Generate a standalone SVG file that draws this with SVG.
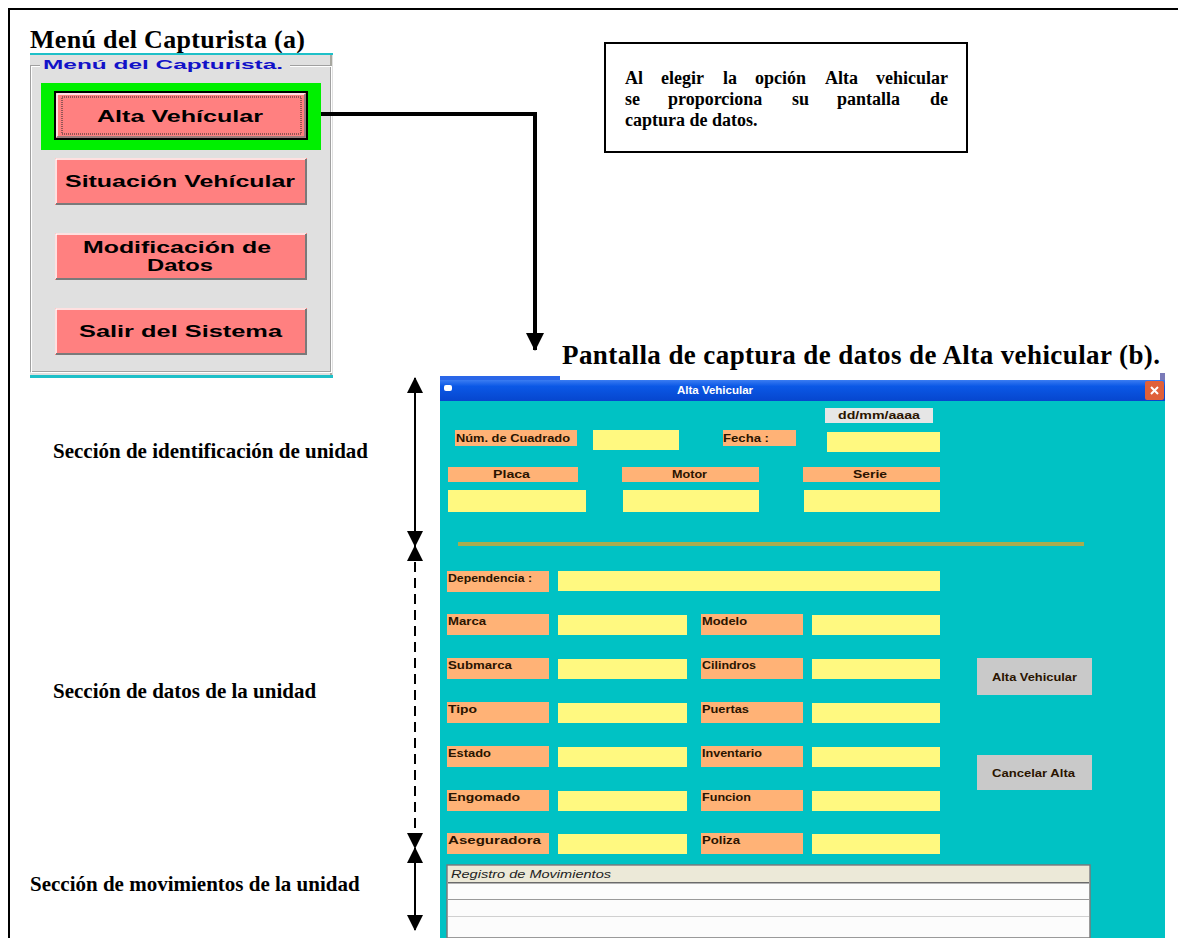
<svg xmlns="http://www.w3.org/2000/svg" width="1178" height="938" viewBox="0 0 1178 938">
  <defs>
    <style>
      .serif { font-family: "Liberation Serif", "Times New Roman", serif; font-weight: bold; fill: #000; }
      .btn-face { fill: #FF8080; }
      .btn-text { font-family: "Liberation Sans", Arial, sans-serif; font-weight: bold; font-size: 16px; fill: #000; }
      .lbl { fill: #FFB276; }
      .fld { fill: #FFF980; }
      .ft { font-family: "Liberation Sans", Arial, sans-serif; font-weight: bold; font-size: 11px; fill: #2A1400; }
      .gbtn { fill: #C9C9C9; }
      .hi { fill: none; stroke: #FFFFFF; stroke-width: 1.5; }
      .sh { fill: none; stroke: #7A7A7A; stroke-width: 2; }
      .conn { fill: none; stroke: #000; stroke-width: 4; }
      .span { fill: none; stroke: #000; stroke-width: 2; }
    </style>
    <linearGradient id="titlebar" x1="0" y1="0" x2="0" y2="1">
      <stop offset="0" stop-color="#3A7CF2"/>
      <stop offset="0.3" stop-color="#0B58E6"/>
      <stop offset="1" stop-color="#0646CE"/>
    </linearGradient>
    <marker id="tip" markerUnits="userSpaceOnUse" markerWidth="16" markerHeight="16" refX="15" refY="8" orient="auto-start-reverse" viewBox="0 0 16 16">
      <path d="M0,0 L16,8 L0,16 Z" fill="#000"/>
    </marker>
    <marker id="bigtip" markerUnits="userSpaceOnUse" markerWidth="18" markerHeight="18" refX="17" refY="9" orient="auto" viewBox="0 0 18 18">
      <path d="M0,0 L18,9 L0,18 Z" fill="#000"/>
    </marker>
  </defs>

  <rect width="1178" height="938" fill="#FFFFFF"/>

  <!-- page frame: left and top rules -->
  <path d="M9,938 V9 H1178" fill="none" stroke="#000" stroke-width="2"/>

  <!-- (a) menu window -->
  <g id="menu">
    <text class="serif" x="30" y="48" font-size="26" textLength="275">Menú del Capturista (a)</text>
    <rect x="30" y="54" width="303" height="322" fill="#E0E0E0"/>
    <rect x="30" y="53" width="303" height="2" fill="#1EC0C8"/>
    <rect x="30" y="375" width="303" height="3" fill="#1EC0C8"/>
    <rect x="330" y="55" width="2" height="320" fill="#A8A8A0"/>
    <!-- etched group box -->
    <rect x="30.5" y="65.5" width="300" height="306" fill="none" stroke="#A0A0A0"/>
    <rect x="31.5" y="66.5" width="300" height="306" fill="none" stroke="#FFFFFF"/>
    <rect x="40" y="58" width="250" height="16" fill="#E0E0E0"/>
    <text x="43" y="69" font-family="Liberation Sans, Arial, sans-serif" font-weight="bold" font-size="13" fill="#1212C8" textLength="240" lengthAdjust="spacingAndGlyphs">Menú del Capturista.</text>
  </g>

  <g id="alta-btn">
    <rect x="41" y="83" width="280" height="67" fill="#00F000"/>
    <rect x="55" y="92" width="252" height="47" class="btn-face" stroke="#000" stroke-width="2"/>
    <path class="hi" d="M57,137 V94 H305"/>
    <path d="M57,137 H305 V94" fill="none" stroke="#7A7A7A" stroke-width="1.5"/>
    <rect x="62" y="97" width="239" height="37" fill="none" stroke="#2A2A2A" stroke-width="1" stroke-dasharray="1,1"/>
    <text class="btn-text" x="97" y="122" textLength="166" lengthAdjust="spacingAndGlyphs">Alta Vehícular</text>
  </g>

  <g id="situacion-btn">
    <rect x="55" y="158" width="252" height="47" class="btn-face"/>
    <path class="hi" d="M56,204 V159 H306"/>
    <path class="sh" d="M56,204 H306 V159"/>
    <text class="btn-text" x="65" y="187" textLength="230" lengthAdjust="spacingAndGlyphs">Situación Vehícular</text>
  </g>

  <g id="modificacion-btn">
    <rect x="55" y="233" width="252" height="47" class="btn-face"/>
    <path class="hi" d="M56,279 V234 H306"/>
    <path class="sh" d="M56,279 H306 V234"/>
    <text class="btn-text" x="83" y="253" textLength="188" lengthAdjust="spacingAndGlyphs">Modificación de</text>
    <text class="btn-text" x="147" y="271" textLength="66" lengthAdjust="spacingAndGlyphs">Datos</text>
  </g>

  <g id="salir-btn">
    <rect x="55" y="308" width="252" height="47" class="btn-face"/>
    <path class="hi" d="M56,354 V309 H306"/>
    <path class="sh" d="M56,354 H306 V309"/>
    <text class="btn-text" x="79" y="337" textLength="203" lengthAdjust="spacingAndGlyphs">Salir del Sistema</text>
  </g>

  <!-- explanatory note, justified word by word -->
  <g id="note">
    <rect x="605" y="43" width="362" height="109" fill="#FFFFFF" stroke="#000" stroke-width="2"/>
    <text class="serif" font-size="18" y="84">
      <tspan x="625">Al</tspan><tspan x="661">elegir</tspan><tspan x="723">la</tspan><tspan x="755">opción</tspan><tspan x="825">Alta</tspan><tspan x="948" text-anchor="end">vehicular</tspan>
    </text>
    <text class="serif" font-size="18" y="105">
      <tspan x="625">se</tspan><tspan x="668">proporciona</tspan><tspan x="792">su</tspan><tspan x="837">pantalla</tspan><tspan x="948" text-anchor="end">de</tspan>
    </text>
    <text class="serif" font-size="18" x="625" y="126">captura de datos.</text>
  </g>

  <!-- (b) data-entry window -->
  <g id="screen">
    <rect x="440" y="376" width="120" height="5" fill="#2A66E8"/>
    <rect x="1160" y="373" width="5" height="8" fill="#7A7AB8"/>
    <rect x="440" y="380" width="725" height="21" fill="url(#titlebar)"/>
    <rect x="444" y="385" width="8" height="6" rx="2" fill="#FFFFFF"/>
    <text x="677" y="394" font-family="Liberation Sans, Arial, sans-serif" font-weight="bold" font-size="10" fill="#FFFFFF" textLength="76" lengthAdjust="spacingAndGlyphs">Alta Vehicular</text>
    <rect x="1145" y="381" width="19" height="19" rx="2" fill="#E0603A"/>
    <path d="M1151,387 L1158,394 M1158,387 L1151,394" stroke="#FFFFFF" stroke-width="2"/>
    <rect x="440" y="401" width="725" height="537" fill="#00C2C4"/>

    <!-- identification section -->
    <rect x="825" y="408" width="108" height="15" fill="#E6E6E6"/>
    <text class="ft" x="838" y="419" fill="#333" textLength="82" lengthAdjust="spacingAndGlyphs">dd/mm/aaaa</text>
    <rect class="lbl" x="455" y="430" width="122" height="16"/>
    <text class="ft" x="456" y="442" textLength="114" lengthAdjust="spacingAndGlyphs">Núm. de Cuadrado</text>
    <rect class="fld" x="593" y="430" width="86" height="20"/>
    <rect class="lbl" x="723" y="430" width="73" height="16"/>
    <text class="ft" x="723" y="442" textLength="46" lengthAdjust="spacingAndGlyphs">Fecha :</text>
    <rect class="fld" x="827" y="432" width="113" height="20"/>

    <rect class="lbl" x="448" y="467" width="130" height="15"/>
    <text class="ft" x="493" y="478" textLength="37" lengthAdjust="spacingAndGlyphs">Placa</text>
    <rect class="lbl" x="622" y="467" width="137" height="15"/>
    <text class="ft" x="672" y="478" textLength="35" lengthAdjust="spacingAndGlyphs">Motor</text>
    <rect class="lbl" x="803" y="467" width="137" height="15"/>
    <text class="ft" x="853" y="478" textLength="34" lengthAdjust="spacingAndGlyphs">Serie</text>
    <rect class="fld" x="448" y="490" width="138" height="22"/>
    <rect class="fld" x="623" y="490" width="136" height="22"/>
    <rect class="fld" x="804" y="490" width="136" height="22"/>

    <rect x="458" y="542" width="626" height="4" fill="#A9AC4E"/>

    <!-- vehicle data section -->
    <rect class="lbl" x="447" y="571" width="102" height="21"/>
    <text class="ft" x="448" y="582" textLength="84" lengthAdjust="spacingAndGlyphs">Dependencia :</text>
    <rect class="fld" x="558" y="571" width="382" height="20"/>

    <rect class="lbl" x="447" y="614" width="102" height="21"/>
    <text class="ft" x="448" y="625" textLength="38" lengthAdjust="spacingAndGlyphs">Marca</text>
    <rect class="fld" x="558" y="615" width="129" height="20"/>
    <rect class="lbl" x="701" y="614" width="102" height="21"/>
    <text class="ft" x="702" y="625" textLength="45" lengthAdjust="spacingAndGlyphs">Modelo</text>
    <rect class="fld" x="812" y="615" width="128" height="20"/>

    <rect class="lbl" x="447" y="658" width="102" height="21"/>
    <text class="ft" x="448" y="669" textLength="64" lengthAdjust="spacingAndGlyphs">Submarca</text>
    <rect class="fld" x="558" y="659" width="129" height="20"/>
    <rect class="lbl" x="701" y="658" width="102" height="21"/>
    <text class="ft" x="702" y="669" textLength="54" lengthAdjust="spacingAndGlyphs">Cilindros</text>
    <rect class="fld" x="812" y="659" width="128" height="20"/>

    <rect class="lbl" x="447" y="702" width="102" height="21"/>
    <text class="ft" x="448" y="713" textLength="29" lengthAdjust="spacingAndGlyphs">Tipo</text>
    <rect class="fld" x="558" y="703" width="129" height="20"/>
    <rect class="lbl" x="701" y="702" width="102" height="21"/>
    <text class="ft" x="702" y="713" textLength="47" lengthAdjust="spacingAndGlyphs">Puertas</text>
    <rect class="fld" x="812" y="703" width="128" height="20"/>

    <rect class="lbl" x="447" y="746" width="102" height="21"/>
    <text class="ft" x="448" y="757" textLength="43" lengthAdjust="spacingAndGlyphs">Estado</text>
    <rect class="fld" x="558" y="747" width="129" height="20"/>
    <rect class="lbl" x="701" y="746" width="102" height="21"/>
    <text class="ft" x="702" y="757" textLength="60" lengthAdjust="spacingAndGlyphs">Inventario</text>
    <rect class="fld" x="812" y="747" width="128" height="20"/>

    <rect class="lbl" x="447" y="790" width="102" height="21"/>
    <text class="ft" x="448" y="801" textLength="72" lengthAdjust="spacingAndGlyphs">Engomado</text>
    <rect class="fld" x="558" y="791" width="129" height="20"/>
    <rect class="lbl" x="701" y="790" width="102" height="21"/>
    <text class="ft" x="702" y="801" textLength="49" lengthAdjust="spacingAndGlyphs">Funcion</text>
    <rect class="fld" x="812" y="791" width="128" height="20"/>

    <rect class="lbl" x="447" y="833" width="102" height="21"/>
    <text class="ft" x="448" y="844" textLength="93" lengthAdjust="spacingAndGlyphs">Aseguradora</text>
    <rect class="fld" x="558" y="834" width="129" height="20"/>
    <rect class="lbl" x="701" y="833" width="102" height="21"/>
    <text class="ft" x="702" y="844" textLength="38" lengthAdjust="spacingAndGlyphs">Poliza</text>
    <rect class="fld" x="812" y="834" width="128" height="20"/>

    <rect class="gbtn" x="977" y="658" width="115" height="37"/>
    <text class="ft" x="992" y="681" fill="#222" textLength="85" lengthAdjust="spacingAndGlyphs">Alta Vehicular</text>
    <rect class="gbtn" x="977" y="755" width="115" height="35"/>
    <text class="ft" x="992" y="777" fill="#222" textLength="83" lengthAdjust="spacingAndGlyphs">Cancelar Alta</text>

    <!-- movements register -->
    <rect x="447" y="865" width="643" height="73" fill="#FCFCFC" stroke="#7A7A7A" stroke-width="1.5"/>
    <rect x="448" y="866" width="641" height="16" fill="#ECE9D8"/>
    <rect x="448" y="882" width="641" height="1.5" fill="#6A6A6A"/>
    <text x="451" y="878" font-family="Liberation Sans, Arial, sans-serif" font-style="italic" font-size="11" fill="#222" textLength="160" lengthAdjust="spacingAndGlyphs">Registro de Movimientos</text>
    <rect x="448" y="899" width="641" height="1" fill="#9A9A9A"/>
    <rect x="448" y="916" width="641" height="1" fill="#D0D0D0"/>
  </g>

  <text class="serif" x="562" y="364" font-size="27" textLength="598">Pantalla de captura de datos de Alta vehicular (b).</text>

  <!-- section captions -->
  <g id="sec-ident">
    <text class="serif" x="53" y="458" font-size="21">Sección de identificación de unidad</text>
  </g>
  <g id="sec-datos">
    <text class="serif" x="53" y="698" font-size="21">Sección de datos de la unidad</text>
  </g>
  <g id="sec-mov">
    <text class="serif" x="30" y="891" font-size="21">Sección de movimientos de la unidad</text>
  </g>

  <!-- connectors -->
  <g id="connectors">
    <path class="conn" d="M321,114 H535 V350" marker-end="url(#bigtip)"/>
    <line class="span" x1="415" y1="378" x2="415" y2="546" marker-start="url(#tip)" marker-end="url(#tip)"/>
    <line class="span" x1="415" y1="546" x2="415" y2="848" stroke-dasharray="10,6" marker-start="url(#tip)" marker-end="url(#tip)"/>
    <line class="span" x1="415" y1="848" x2="415" y2="930" marker-start="url(#tip)" marker-end="url(#tip)"/>
  </g>
</svg>
